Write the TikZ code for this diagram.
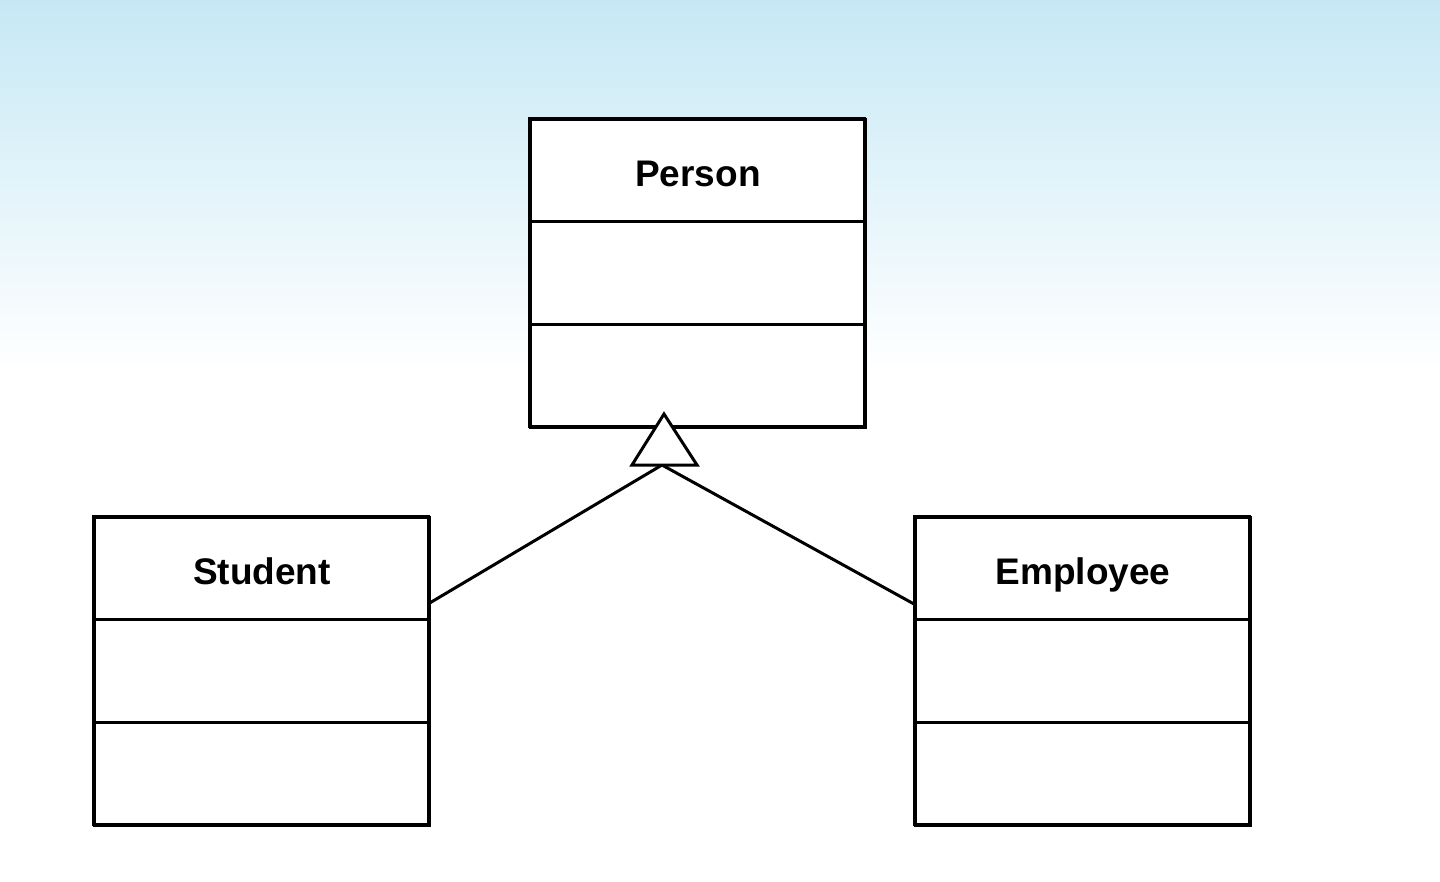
\documentclass[tikz,border=0pt]{standalone}
\usepackage{fontspec}
\setmainfont{Liberation Sans}
\begin{document}
\begin{tikzpicture}[x=1pt,y=-1pt,
  comp/.style={draw=black, line width=3pt, fill=white, minimum width=335pt, minimum height=103pt, inner sep=0pt, anchor=north west,
    text height=31pt, text depth=0pt,
    font=\fontsize{37}{44}\selectfont\bfseries},
  link/.style={line width=3pt}]
\definecolor{skytop}{RGB}{198,232,245}
\useasboundingbox (0,0) rectangle (1440,881);
\fill[white] (0,0) rectangle (1440,881);
\shade[top color=skytop, bottom color=white, draw=none] (0,0) rectangle (1440,370);
% Person
\node[comp] (ph) at (529,118) {Person};
\node[comp] (pa) at (529,220) {};
\node[comp] (po) at (529,323) {};
\draw[line width=3pt] (529,118) rectangle (864,426);
% Student
\node[comp] (sh) at (93,516) {Student};
\node[comp] (sa) at (93,618) {};
\node[comp] (so) at (93,721) {};
\draw[line width=3pt] (93,516) rectangle (428,824);
% Employee
\node[comp] (eh) at (914,516) {Employee};
\node[comp] (ea) at (914,618) {};
\node[comp] (eo) at (914,721) {};
\draw[line width=3pt] (914,516) rectangle (1249,824);
% generalization
\coordinate (tip) at (664,414);
\coordinate (base) at (662,465);
\coordinate (sj) at (428,604);
\coordinate (ej) at (914,604);
\draw[link] (sj) -- (base) -- (ej);
\draw[line width=3pt, fill=white, line join=miter] (tip) -- (632,465) -- (697,465) -- cycle;
\end{tikzpicture}
\end{document}
